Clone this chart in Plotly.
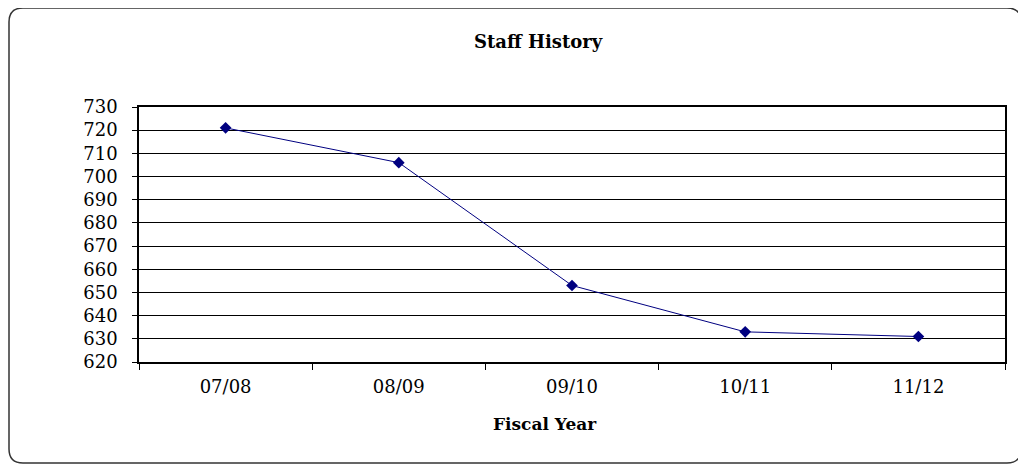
import plotly.graph_objects as go

# data
years = ["07/08", "08/09", "09/10", "10/11", "11/12"]
staff = [721, 706, 653, 633, 631]

# the page puts the figure 8px in from the top-left corner
W, H = 1018, 459
L, R, T, B = 131, 21, 99, 105
pw, ph = W - L - R, H - T - B


def px(x, y):
    # figure pixel -> paper coordinates
    return (x - L) / pw, (H - B - y) / ph


def rounded_rect(x0, y0, x1, y1, r):
    pts = []
    pts.append("M %f,%f" % px(x0 + r, y0))
    pts.append("L %f,%f" % px(x1 - r, y0))
    pts.append("Q %f,%f %f,%f" % (px(x1, y0) + px(x1, y0 + r)))
    pts.append("L %f,%f" % px(x1, y1 - r))
    pts.append("Q %f,%f %f,%f" % (px(x1, y1) + px(x1 - r, y1)))
    pts.append("L %f,%f" % px(x0 + r, y1))
    pts.append("Q %f,%f %f,%f" % (px(x0, y1) + px(x0, y1 - r)))
    pts.append("L %f,%f" % px(x0, y0 + r))
    pts.append("Q %f,%f %f,%f" % (px(x0, y0) + px(x0 + r, y0)))
    return " ".join(pts) + " Z"


fig = go.Figure()
fig.add_trace(go.Scatter(
    x=years, y=staff, mode="lines+markers",
    line=dict(color="#000080", width=1),
    marker=dict(symbol="diamond", size=9, color="#000080"),
    showlegend=False,
))

serif = "DejaVu Serif"
tx, ty = px(530, 33)
fx, fy = px(537, 416)
fig.update_layout(
    width=W, height=H,
    margin=dict(l=L, r=R, t=T, b=B),
    paper_bgcolor="white", plot_bgcolor="white",
    font=dict(family=serif, size=18, color="black"),
    shapes=[dict(type="path", xref="paper", yref="paper",
                 path=rounded_rect(1, 0, 1013, 455, 14),
                 line=dict(color="#333333", width=1.5), layer="below")],
    annotations=[
        dict(text="<b>Staff History</b>", x=tx, y=ty, xref="paper", yref="paper",
             showarrow=False, xanchor="center", yanchor="middle",
             font=dict(family=serif, size=18)),
        dict(text="<b>Fiscal Year</b>", x=fx, y=fy, xref="paper", yref="paper",
             showarrow=False, xanchor="center", yanchor="middle",
             font=dict(family=serif, size=17)),
    ],
)
fig.update_xaxes(
    type="category", range=[-0.5, 4.5],
    showline=True, linecolor="black", linewidth=1.5, mirror=True,
    ticks="outside", tickson="boundaries", ticklen=6, tickcolor="black",
    showgrid=False, tickfont=dict(size=18), ticklabelstandoff=8,
)
fig.update_yaxes(
    range=[620, 730], dtick=10, tick0=620,
    showline=True, linecolor="black", linewidth=1.5, mirror=True,
    ticks="outside", ticklen=5, tickcolor="black",
    showgrid=True, gridcolor="black", gridwidth=1, zeroline=False,
    tickfont=dict(size=18), ticklabelstandoff=11,
)

fig.write_html("out.html")
